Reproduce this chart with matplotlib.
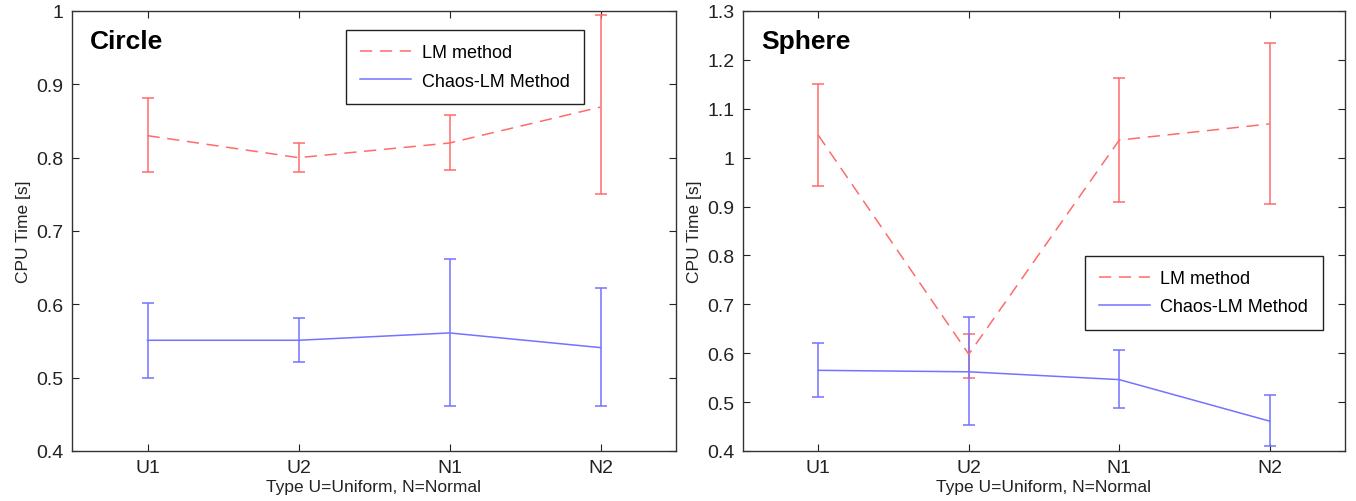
import matplotlib
matplotlib.use("Agg")
import matplotlib.pyplot as plt
from matplotlib.ticker import FuncFormatter, MultipleLocator
import numpy as np

plt.rcParams['font.family'] = ['Liberation Sans', 'DejaVu Sans']

categories = ["U1", "U2", "N1", "N2"]

# Circle: mean CPU time with lower / upper error-bar ends
circle_lm = [0.830, 0.800, 0.820, 0.869]
circle_lm_low = [0.780, 0.780, 0.783, 0.750]
circle_lm_high = [0.881, 0.820, 0.858, 0.994]
circle_chaos = [0.551, 0.551, 0.561, 0.541]
circle_chaos_low = [0.500, 0.521, 0.461, 0.461]
circle_chaos_high = [0.602, 0.581, 0.662, 0.622]

# Sphere
sphere_lm = [1.046, 0.598, 1.036, 1.069]
sphere_lm_low = [0.943, 0.549, 0.910, 0.905]
sphere_lm_high = [1.151, 0.640, 1.162, 1.235]
sphere_chaos = [0.565, 0.562, 0.546, 0.461]
sphere_chaos_low = [0.510, 0.454, 0.488, 0.411]
sphere_chaos_high = [0.621, 0.674, 0.606, 0.515]

RED = (1.0, 0.42, 0.42)
BLUE = (0.45, 0.45, 1.0)

fig = plt.figure(figsize=(13.56, 5.02), dpi=100)
ax1 = fig.add_axes([72 / 1356, 50 / 502, 604 / 1356, 440 / 502])
ax2 = fig.add_axes([743 / 1356, 50 / 502, 602 / 1356, 440 / 502])


def draw_panel(ax, title, lm, lm_lo, lm_hi, ch, ch_lo, ch_hi, ylim, leg_anchor):
    x = np.arange(1, len(categories) + 1)
    lm = np.array(lm)
    ch = np.array(ch)
    lm_err = [lm - np.array(lm_lo), np.array(lm_hi) - lm]
    ch_err = [ch - np.array(ch_lo), np.array(ch_hi) - ch]
    e1 = ax.errorbar(x, lm, yerr=lm_err, color=RED, lw=1.1, capsize=4,
                     capthick=1.1, elinewidth=1.1, dashes=(8, 5),
                     label="LM method")
    e2 = ax.errorbar(x, ch, yerr=ch_err, color=BLUE, lw=1.1, capsize=4,
                     capthick=1.1, elinewidth=1.1, label="Chaos-LM Method")
    ax.set_xlim(0.5, 4.5)
    ax.set_ylim(*ylim)
    ax.set_xticks(x)
    ax.set_xticklabels(categories)
    ax.yaxis.set_major_locator(MultipleLocator(0.1))
    ax.yaxis.set_major_formatter(FuncFormatter(lambda v, p: f"{round(v, 1):g}"))
    ax.tick_params(direction='in', length=5, width=0.8, top=True, right=True,
                   labelsize=14, colors='#222222', pad=6)
    for s in ax.spines.values():
        s.set_color('#333333')
        s.set_linewidth(1.0)
    ax.set_xlabel("Type U=Uniform, N=Normal", fontsize=12.5, labelpad=2, color='#222222')
    ax.set_ylabel("CPU Time [s]", fontsize=12.5, labelpad=4, color='#222222')
    ax.text(0.03, 0.958, title, transform=ax.transAxes, fontsize=19,
            fontweight='bold', va='top', ha='left')
    leg = ax.legend(handles=[e1.lines[0], e2.lines[0]],
                    labels=["LM method", "Chaos-LM Method"],
                    loc='upper right', bbox_to_anchor=leg_anchor, fontsize=13,
                    frameon=True, fancybox=False, framealpha=1,
                    handlelength=2.8, handletextpad=0.6, labelspacing=0.62,
                    borderpad=0.8, borderaxespad=0)
    leg.get_frame().set_edgecolor('#222222')
    leg.get_frame().set_linewidth(1.0)


draw_panel(ax1, "Circle", circle_lm, circle_lm_low, circle_lm_high,
           circle_chaos, circle_chaos_low, circle_chaos_high,
           (0.4, 1.0), (0.848, 0.957))
draw_panel(ax2, "Sphere", sphere_lm, sphere_lm_low, sphere_lm_high,
           sphere_chaos, sphere_chaos_low, sphere_chaos_high,
           (0.4, 1.3), (0.963, 0.444))

# descender of the caption line clipped at the top edge
fig.text(0.476, 1.007, "g", fontsize=15, fontweight='bold', va='baseline', ha='left')

fig.savefig("out.png", dpi=100)
